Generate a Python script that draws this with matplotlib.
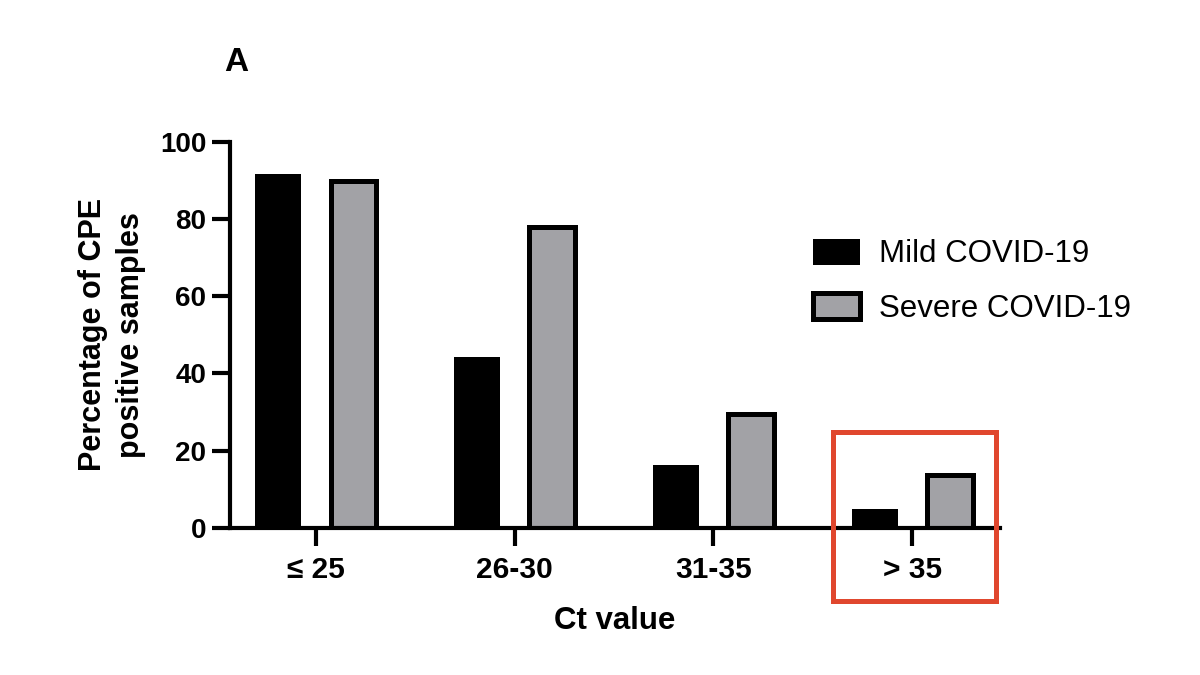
import matplotlib
matplotlib.use('Agg')
import matplotlib.pyplot as plt
import matplotlib.patches as mpatches
import numpy as np

plt.rcParams['font.family'] = ['Liberation Sans', 'DejaVu Sans']

# data
categories = ['≤ 25', '26-30', '31-35', '> 35']
mild = [91.7, 44.3, 16.4, 5.0]
severe = [89.8, 77.8, 29.5, 13.7]
highlight = 3  # group boxed in red

x = np.arange(len(categories))
w = 0.23
off = 0.19

fig = plt.figure(figsize=(12, 6.75), dpi=100)
ax = fig.add_axes([0.1917, 0.2178, 0.6416, 0.5722])

ax.bar(x - off, mild, w, color='black', edgecolor='black', linewidth=0)
ax.bar(x + off, severe, w, color='#a2a2a6', edgecolor='black', linewidth=3.6)

ax.set_xlim(-0.43, 3.44)
ax.set_ylim(0, 100)
ax.set_yticks([0, 20, 40, 60, 80, 100])
ax.set_xticks(x)
ax.set_xticklabels(categories)

for s in ['top', 'right']:
    ax.spines[s].set_visible(False)
for s in ['left', 'bottom']:
    ax.spines[s].set_linewidth(3)
ax.tick_params(width=3, length=13, pad=4)
ax.tick_params(axis='x', labelsize=21.5, pad=7)
ax.tick_params(axis='y', labelsize=20)
for lab in ax.get_xticklabels() + ax.get_yticklabels():
    lab.set_fontweight('bold')

ax.set_xlabel('Ct value', fontsize=22.5, fontweight='bold', labelpad=16)
ax.set_ylabel('Percentage of CPE\npositive samples', fontsize=22,
              fontweight='bold', labelpad=10, linespacing=1.35)

fig.text(0.197, 0.908, 'A', fontsize=24, fontweight='bold', ha='center', va='center')

# legend
h1 = mpatches.Patch(facecolor='black', edgecolor='black', linewidth=0)
h2 = mpatches.Patch(facecolor='#a2a2a6', edgecolor='black', linewidth=3.6)
fig.legend([h1, h2], ['Mild COVID-19', 'Severe COVID-19'],
           loc='upper left', bbox_to_anchor=(0.654, 0.688), frameon=False,
           fontsize=22.5, handlelength=1.5, handleheight=0.9, handletextpad=0.62,
           labelspacing=0.76)

# red highlight box around last group
box = mpatches.Rectangle((highlight - 0.40, -18.9), 0.82, 43.8, fill=False,
                         edgecolor='#e0472e', linewidth=3.6, clip_on=False, zorder=5)
ax.add_patch(box)

fig.savefig('out.png', dpi=100)
